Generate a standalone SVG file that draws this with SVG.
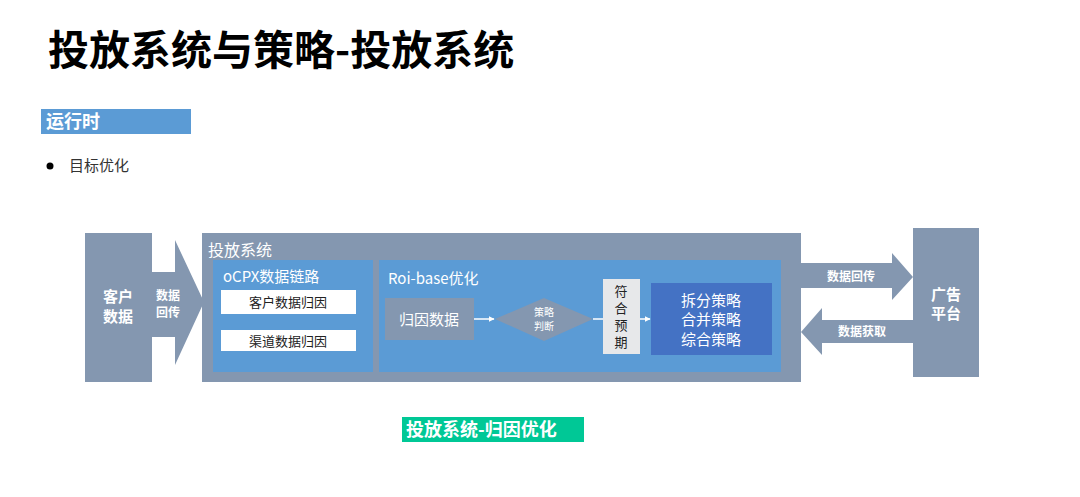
<svg xmlns="http://www.w3.org/2000/svg" width="1080" height="497" viewBox="0 0 1080 497">
<defs>
<style>
text{font-family:"Liberation Sans","Noto Sans CJK SC",sans-serif}
.cjk{font-family:"Noto Sans CJK SC","Liberation Sans",sans-serif}
.gray{fill:#8497B0}
.blue{fill:#5B9BD5}
.w{fill:#fff}
.link{stroke:#fff;stroke-width:1.5;fill:none}
</style>
<marker id="ah" viewBox="0 0 10 10" refX="9" refY="5" markerWidth="6" markerHeight="6" orient="auto" markerUnits="userSpaceOnUse"><path d="M0,0 L10,5 L0,10 z" fill="#fff"/></marker>
</defs>
<rect width="1080" height="497" fill="#fff"/>
<text x="48" y="65" class="cjk" font-size="41" font-weight="bold" fill="#000">投放系统与策略-投放系统</text>
<g id="header">
<rect x="41" y="109" width="150" height="25" fill="#5B9BD5"/>
<text x="46" y="128" class="cjk" font-size="18" font-weight="bold" fill="#fff">运行时</text>
</g>
<g id="bullet">
<circle cx="50" cy="166" r="3.5" fill="#000"/>
<text x="69" y="171" class="cjk" font-size="15" fill="#333">目标优化</text>
</g>
<g id="client">
<path class="gray" d="M85,233 H152 V272 H175 V240 L204,302 L175,365 V337 H152 V382 H85 Z"/>
<text x="118" y="302" class="cjk w" font-size="15" font-weight="bold" text-anchor="middle">客户</text>
<text x="118" y="322" class="cjk w" font-size="15" font-weight="bold" text-anchor="middle">数据</text>
<text x="168" y="300" class="cjk w" font-size="12" font-weight="bold" text-anchor="middle">数据</text>
<text x="168" y="317" class="cjk w" font-size="12" font-weight="bold" text-anchor="middle">回传</text>
</g>
<g id="system">
<rect x="202" y="233" width="599" height="149" class="gray"/>
<text x="208" y="256" class="cjk w" font-size="16">投放系统</text>
</g>
<g id="ocpx">
<rect x="213" y="260" width="160" height="112" class="blue"/>
<text x="223" y="282" class="cjk w" font-size="15">oCPX数据链路</text>
<rect x="221" y="290" width="135" height="24" fill="#fff"/>
<text x="288" y="307" class="cjk" font-size="13" fill="#222" text-anchor="middle">客户数据归因</text>
<rect x="221" y="330" width="135" height="21" fill="#fff"/>
<text x="288" y="346" class="cjk" font-size="13" fill="#222" text-anchor="middle">渠道数据归因</text>
</g>
<g id="roi">
<rect x="379" y="260" width="402" height="112" class="blue"/>
<text x="388" y="284" class="cjk w" font-size="15">Roi-base优化</text>
</g>
<g id="attr-data">
<rect x="385" y="298" width="89" height="42" class="gray"/>
<text x="429" y="325" class="cjk w" font-size="15" text-anchor="middle">归因数据</text>
</g>
<g id="judge">
<polygon points="495,319 544,298 593,319 544,341" class="gray"/>
<text x="544" y="316" class="cjk w" font-size="10" text-anchor="middle">策略</text>
<text x="544" y="330" class="cjk w" font-size="10" text-anchor="middle">判断</text>
</g>
<g id="expect">
<rect x="603" y="279" width="37" height="75" fill="#E7E8EA"/>
<text x="621" y="296" class="cjk" font-size="13" fill="#222" text-anchor="middle">符</text>
<text x="621" y="313" class="cjk" font-size="13" fill="#222" text-anchor="middle">合</text>
<text x="621" y="330" class="cjk" font-size="13" fill="#222" text-anchor="middle">预</text>
<text x="621" y="347" class="cjk" font-size="13" fill="#222" text-anchor="middle">期</text>
</g>
<g id="strategy">
<rect x="651" y="283" width="121" height="72" fill="#4472C4"/>
<text x="711" y="306" class="cjk w" font-size="15" text-anchor="middle">拆分策略</text>
<text x="711" y="325" class="cjk w" font-size="15" text-anchor="middle">合并策略</text>
<text x="711" y="345" class="cjk w" font-size="15" text-anchor="middle">综合策略</text>
</g>
<g id="adplatform">
<rect x="913" y="228" width="66" height="149" class="gray"/>
<text x="946" y="300" class="cjk w" font-size="15" font-weight="bold" text-anchor="middle">广告</text>
<text x="946" y="319" class="cjk w" font-size="15" font-weight="bold" text-anchor="middle">平台</text>
</g>
<g id="connectors">
<line x1="474" y1="319" x2="494" y2="319" class="link" marker-end="url(#ah)"/>
<line x1="593" y1="319" x2="603" y2="319" class="link"/>
<line x1="640" y1="319" x2="650" y2="319" class="link" marker-end="url(#ah)"/>
<path class="gray" d="M801,263 H892 V253 L913,277 L892,300 V288 H801 Z"/>
<text x="851" y="281" class="cjk w" font-size="12" font-weight="bold" text-anchor="middle">数据回传</text>
<path class="gray" d="M913,320 H822 V308 L801,332 L822,355 V343 H913 Z"/>
<text x="862" y="336" class="cjk w" font-size="12" font-weight="bold" text-anchor="middle">数据获取</text>
</g>
<g id="caption">
<rect x="402" y="417" width="182" height="25" fill="#00C896"/>
<text x="406" y="436" class="cjk" font-size="18" font-weight="bold" fill="#fff">投放系统-归因优化</text>
</g>
</svg>
